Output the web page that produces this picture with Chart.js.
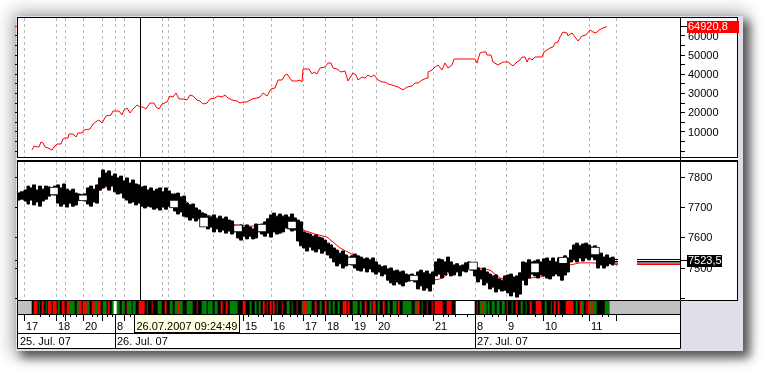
<!DOCTYPE html>
<html>
<head>
<meta charset="utf-8">
<script src="https://cdn.jsdelivr.net/npm/chart.js@4.4.1/dist/chart.umd.min.js"></script>
<style>
  html, body { margin: 0; padding: 0; background: #fff; }
  body { width: 766px; height: 375px; position: relative; overflow: hidden; }
  .abs { position: absolute; box-sizing: border-box; }
  #win { left: 16px; top: 16px; width: 727px; height: 335px; background: #dfdfe7;
         box-shadow: 0 0 16px 4px rgba(0,0,0,0.32), 6px 6px 9px 1px rgba(0,0,0,0.55); }
  #paper { left: 17px; top: 17px; width: 721px; height: 284px; background: #fff; }
  #pTop { left: 17px; top: 17px; width: 721px; height: 141px; border: 1px solid #000; }
  #pBot { left: 17px; top: 160px; width: 721px; height: 141px; border: 1px solid #000; border-top-width: 2px; }
  #axLine { left: 680px; top: 17px; width: 1px; height: 284px; background: #000; }
  canvas { position: absolute; }
  #cTop { left: 13px; top: 18px; }
  #cBot { left: 13px; top: 162px; }
  #cStrip { left: 17px; top: 300px; }
</style>
</head>
<body>
<div id="win" class="abs"></div>
<div id="paper" class="abs"></div>
<div id="pTop" class="abs"></div>
<div id="pBot" class="abs"></div>
<div id="axLine" class="abs"></div>
<canvas id="cTop" width="727" height="139"></canvas>
<canvas id="cBot" width="727" height="138"></canvas>
<canvas id="cStrip" width="664" height="49"></canvas>
<script>
// x axis = bar number (0..662), one bar per screen column of the plot

// equity curve (top panel)
const eqBar = [
  14, 16, 19, 21, 23, 25, 27, 30, 34, 36,
  39, 43, 45, 47, 50, 51, 55, 58, 60, 64,
  66, 72, 75, 79, 81, 84, 88, 93, 95, 101,
  104, 106, 109, 112, 115, 119, 122, 125, 128, 132,
  136, 138, 141, 144, 149, 152, 155, 158, 161, 165,
  169, 172, 175, 179, 182, 185, 189, 192, 197, 200,
  204, 207, 210, 214, 219, 222, 225, 229, 234, 239,
  242, 245, 249, 253, 257, 260, 264, 267, 269, 274,
  279, 282, 284, 285, 291, 294, 296, 299, 302, 307,
  310, 313, 315, 319, 323, 327, 330, 335, 338, 340,
  344, 347, 350, 353, 356, 360, 364, 367, 370, 374,
  377, 380, 385, 389, 394, 397, 400, 404, 409, 410,
  414, 417, 420, 424, 427, 430, 434, 436, 457, 459,
  462, 465, 468, 469, 473, 475, 480, 485, 490, 495,
  499, 502, 504, 507, 509, 511, 514, 517, 524, 526,
  532, 535, 537, 540, 542, 545, 549, 550, 554, 557,
  560, 564, 568, 572, 575, 578, 581, 585, 588, 589
];
const eqVal = [
  625, 2708, 2187, 2187, 4792, 4271, 2187, 1667, 625, 2187,
  3750, 3750, 6354, 6875, 6875, 8958, 8958, 7396, 9479, 9479,
  11042, 11562, 14167, 15729, 16250, 14687, 18333, 18854, 20937, 20937,
  18854, 21458, 22500, 19896, 21979, 24062, 23021, 23021, 21979, 25104,
  25104, 23021, 21979, 24583, 25625, 28750, 28229, 30312, 27187, 27187,
  26667, 29271, 28750, 26667, 26146, 24583, 25104, 27187, 27708, 28750,
  28229, 29271, 27708, 26667, 26146, 25104, 25625, 25625, 27187, 27708,
  28229, 30312, 28750, 32396, 32917, 37083, 37083, 39687, 40208, 36562,
  36562, 37083, 36042, 42812, 42812, 40208, 41250, 40208, 43333, 43854,
  45937, 45937, 43333, 42812, 41250, 41771, 36562, 40729, 39687, 37083,
  38646, 38125, 39687, 38646, 39687, 37083, 36042, 36042, 35000, 34479,
  33958, 33437, 31875, 33437, 33958, 35521, 35521, 37083, 38125, 41250,
  42292, 43854, 44896, 42292, 45937, 43333, 44896, 48021, 48021, 45937,
  51146, 51667, 51667, 50104, 50104, 46458, 44896, 46458, 46458, 44375,
  46458, 47500, 49062, 49062, 46458, 48542, 47500, 49062, 49062, 51667,
  53750, 54271, 56354, 56875, 59479, 62083, 61562, 60000, 61562, 59479,
  57396, 60000, 60521, 63125, 62083, 61562, 63125, 64167, 64687, 64920.8
];

// price band (bottom panel): highs and lows of the bars
const bandBar = [
  0, 4, 8, 10, 13, 16, 19, 22, 25, 28,
  31, 34, 37, 40, 43, 46, 49, 52, 55, 58,
  61, 64, 67, 70, 73, 76, 79, 82, 85, 88,
  91, 94, 97, 100, 103, 106, 109, 112, 115, 118,
  121, 124, 127, 130, 133, 136, 139, 142, 145, 148,
  151, 154, 157, 160, 163, 166, 169, 172, 175, 178,
  181, 184, 187, 190, 193, 196, 199, 202, 205, 208,
  211, 214, 217, 220, 223, 226, 229, 232, 235, 238,
  241, 244, 247, 250, 253, 256, 259, 262, 265, 268,
  271, 274, 277, 280, 283, 286, 289, 292, 295, 298,
  301, 304, 307, 310, 313, 316, 319, 322, 325, 328,
  331, 334, 337, 340, 343, 346, 349, 352, 355, 358,
  361, 364, 367, 370, 373, 376, 379, 382, 385, 388,
  391, 394, 397, 400, 403, 406, 409, 412, 415, 418,
  421, 424, 427, 430, 433, 436, 439, 442, 445, 448,
  451, 454, 457, 460, 463, 466, 469, 472, 475, 478,
  481, 484, 487, 490, 493, 496, 499, 502, 505, 508,
  511, 514, 517, 520, 523, 526, 529, 532, 535, 538,
  541, 544, 547, 550, 553, 556, 559, 562, 565, 568,
  571, 574, 577, 580, 583, 586, 589, 592, 595, 597
];
const bandHi = [
  7747, 7751, 7757, 7770, 7764, 7774, 7757, 7770, 7760, 7770,
  7767, 7764, 7770, 7774, 7764, 7777, 7760, 7754, 7760, 7747,
  7744, 7741, 7744, 7764, 7770, 7760, 7774, 7797, 7823, 7813,
  7820, 7803, 7810, 7797, 7803, 7787, 7797, 7780, 7790, 7777,
  7774, 7767, 7770, 7757, 7764, 7754, 7760, 7764, 7751, 7764,
  7754, 7744, 7744, 7747, 7734, 7737, 7714, 7708, 7711, 7698,
  7691, 7681, 7678, 7671, 7668, 7675, 7662, 7671, 7662, 7668,
  7658, 7655, 7638, 7635, 7642, 7635, 7642, 7635, 7629, 7645,
  7632, 7645, 7652, 7662, 7675, 7681, 7671, 7678, 7671, 7675,
  7668, 7678, 7665, 7658, 7652, 7619, 7615, 7612, 7605, 7609,
  7602, 7599, 7592, 7582, 7576, 7566, 7559, 7549, 7556, 7543,
  7536, 7540, 7546, 7540, 7536, 7530, 7533, 7527, 7533, 7520,
  7510, 7504, 7507, 7497, 7500, 7490, 7493, 7487, 7490, 7480,
  7477, 7480, 7474, 7487, 7493, 7484, 7490, 7480, 7487, 7520,
  7530, 7527, 7520, 7536, 7520, 7510, 7514, 7507, 7510, 7517,
  7520, 7517, 7507, 7500, 7493, 7500, 7487, 7480, 7474, 7477,
  7464, 7460, 7474, 7477, 7480, 7470, 7474, 7484, 7520, 7517,
  7527, 7520, 7523, 7527, 7520, 7530, 7533, 7523, 7533, 7520,
  7533, 7527, 7540, 7533, 7559, 7576, 7582, 7573, 7579, 7582,
  7576, 7569, 7573, 7543, 7549, 7536, 7543, 7533, 7536, 7533
];
const bandLo = [
  7724, 7727, 7721, 7711, 7724, 7708, 7718, 7704, 7721, 7727,
  7737, 7747, 7741, 7714, 7704, 7711, 7701, 7714, 7704, 7708,
  7724, 7727, 7721, 7711, 7704, 7718, 7714, 7757, 7764, 7770,
  7757, 7770, 7751, 7744, 7747, 7731, 7724, 7714, 7718, 7708,
  7714, 7704, 7698, 7704, 7701, 7694, 7698, 7691, 7701, 7694,
  7704, 7711, 7688, 7678, 7685, 7671, 7668, 7658, 7665, 7655,
  7662, 7652, 7645, 7629, 7635, 7619, 7629, 7619, 7625, 7615,
  7622, 7612, 7619, 7599, 7592, 7605, 7596, 7605, 7596, 7599,
  7619, 7612, 7605, 7615, 7602, 7619, 7612, 7615, 7619, 7632,
  7629, 7622, 7625, 7589, 7573, 7566, 7556, 7569, 7559, 7553,
  7563, 7549, 7556, 7543, 7533, 7520, 7507, 7514, 7500, 7507,
  7517, 7510, 7500, 7493, 7490, 7500, 7487, 7497, 7487, 7480,
  7487, 7474, 7480, 7460, 7451, 7444, 7454, 7447, 7441, 7454,
  7457, 7460, 7454, 7431, 7441, 7427, 7434, 7424, 7447, 7474,
  7480, 7467, 7477, 7487, 7474, 7477, 7487, 7474, 7490, 7487,
  7500, 7493, 7474, 7454, 7464, 7444, 7451, 7431, 7437, 7421,
  7431, 7424, 7427, 7418, 7408, 7421, 7404, 7414, 7460, 7444,
  7467, 7480, 7474, 7467, 7477, 7474, 7467, 7464, 7474, 7480,
  7474, 7460, 7477, 7487, 7520, 7527, 7520, 7533, 7523, 7533,
  7527, 7536, 7527, 7500, 7510, 7500, 7507, 7514, 7510, 7517
];

// moving average (red, bottom panel)
const maBar = [
  0, 22, 42, 60, 77, 85, 97, 105, 119, 125,
  142, 162, 167, 175, 182, 189, 202, 217, 232, 244,
  257, 272, 285, 297, 309, 322, 332, 347, 362, 372,
  379, 392, 402, 415, 422, 429, 434, 452, 462, 472,
  482, 492, 512, 522, 537, 552, 562, 572, 597
];
const maVal = [
  7737, 7741, 7741, 7741, 7747, 7764, 7777, 7784, 7764, 7734,
  7734, 7731, 7724, 7698, 7688, 7675, 7662, 7642, 7638, 7638,
  7642, 7638, 7625, 7612, 7602, 7566, 7549, 7520, 7504, 7493,
  7477, 7470, 7464, 7460, 7464, 7477, 7500, 7500, 7500, 7493,
  7467, 7460, 7467, 7470, 7487, 7510, 7517, 7517, 7514
];

// hollow (rising) candles inside the band
const boxBar = [36, 65, 156, 186, 220, 244, 274, 334, 396, 455, 517, 545, 577];
const boxLo = [7741, 7721, 7698, 7635, 7619, 7619, 7629, 7510, 7457, 7493, 7484, 7514, 7543];
const boxHi = [7767, 7741, 7724, 7668, 7642, 7645, 7655, 7536, 7477, 7520, 7517, 7536, 7569];

// price lines at the right end
const levelBlack = [7528, 7521.5, 7516.5];
const levelRed = 7511.5;
const levelBars = [597, 600, 619, 662];
const lastPrice = 7523.5;

// signal strip: run starts (bar) and colour codes
const stripStart = [
  0, 14, 16, 20, 21, 22, 24, 26, 28, 29,
  30, 34, 35, 39, 40, 42, 44, 47, 49, 52,
  57, 59, 61, 64, 65, 69, 72, 74, 77, 80,
  83, 85, 89, 90, 92, 94, 96, 99, 102, 104,
  107, 109, 110, 114, 115, 118, 121, 127, 129, 130,
  134, 135, 140, 144, 147, 149, 152, 155, 157, 160,
  162, 165, 169, 175, 179, 180, 184, 189, 190, 195,
  197, 200, 203, 205, 208, 210, 212, 220, 225, 228,
  232, 234, 237, 239, 241, 243, 245, 247, 249, 250,
  252, 254, 255, 257, 259, 260, 264, 265, 269, 272,
  274, 275, 279, 280, 284, 285, 289, 294, 297, 299,
  302, 304, 307, 309, 311, 313, 315, 317, 320, 322,
  325, 329, 330, 332, 335, 340, 342, 344, 347, 349,
  352, 354, 355, 358, 360, 362, 365, 367, 370, 372,
  375, 379, 380, 382, 385, 394, 397, 399, 402, 404,
  405, 409, 410, 414, 415, 417, 425, 429, 434, 438,
  457, 459, 460, 462, 464, 465, 469, 470, 472, 474,
  477, 479, 482, 484, 487, 489, 490, 494, 495, 498,
  500, 503, 505, 508, 509, 512, 514, 518, 524, 527,
  529, 533, 534, 536, 538, 540, 542, 548, 556, 558,
  560, 562, 564, 566, 568, 569, 570, 572, 573, 575,
  579, 587, 592
];
const stripSignal =
  'xkrkgkrkgk' + 'rkrkgkrkrg' + 'kgrkrgkrgr' + 'kgkrkgwgkg' + 'krgkgkrkgk' +
  'rkgkrkgkgr' + 'gkgkrkgkgk' + 'gkrkrkgkrk' + 'gkgkgkrkrk' + 'rkrkgkrkgk' +
  'gkrkgrgkrk' + 'gkrkgkgkgk' + 'rkrkgkgkrk' + 'gkrkgkrkgk' + 'gkrkgkgrkg' +
  'krkrkrkrkw' + 'krkgrgkgkg' + 'kgkgkrkgkr' + 'kgkgkrkrkg' + 'kgkrkrkrkg' +
  'krgkrkrgrg' + 'kgx';
const stripEnd = 662;
const signalColor = { k: '#000000', r: '#ff0000', g: '#008000', w: '#ffffff', x: '#c0c0c0' };

// time axis
const gridBars = [6, 38, 47, 65, 84, 98, 106, 144, 150, 166, 195, 225, 253, 285, 307, 335, 358, 415, 457, 488, 525, 571, 598];
const minorBars = [22, 31, 45, 52, 59, 74, 79, 89, 94, 112, 230, 240, 245, 264, 272, 279, 292, 299, 322, 329,
  342, 349, 365, 372, 380, 389, 405, 425, 430, 437, 449, 467, 474, 480, 499, 517, 537, 544, 564, 584, 590];
const hourBars = [6, 38, 65, 98, 225, 253, 285, 307, 335, 358, 415, 457, 488, 525, 571];
const hourText = ['17', '18', '20', '8', '15', '16', '17', '18', '19', '20', '21', '8', '9', '10', '11'];
const dayBars = [0, 98, 457];
const dayText = ['25. Jul. 07', '26. Jul. 07', '27. Jul. 07'];
const crossBar = 122;
const crossLabel = '26.07.2007 09:24:49';

// y axes
const topTicks = [0, 5000, 10000, 15000, 20000, 25000, 30000, 35000, 40000, 45000, 50000, 55000, 60000, 65000];
const topLabels = [10000, 20000, 30000, 40000, 50000, 60000];
const botTicks = [7400, 7500, 7600, 7700, 7800];
const botLabels = [7500, 7600, 7700, 7800];

const FONT = '11px "Liberation Sans", Arial, sans-serif';
const col = v => Math.floor(v) + 0.5;
const fmt = v => v.toFixed(1).replace('.', ',');

// dashed grid, crosshair, price axis and last-value badge
const panelPlugin = {
  id: 'panel',
  beforeDatasetsDraw(chart) {
    const { ctx, chartArea: a, scales: { x } } = chart;
    ctx.save();
    ctx.strokeStyle = '#b8b8b8';
    ctx.lineWidth = 1;
    ctx.setLineDash([3, 3]);
    gridBars.forEach(b => {
      const px = col(x.getPixelForValue(b));
      ctx.beginPath(); ctx.moveTo(px, a.top); ctx.lineTo(px, a.bottom); ctx.stroke();
    });
    ctx.restore();
  },
  afterDatasetsDraw(chart) {
    const { ctx, chartArea: a, scales: { x } } = chart;
    const px = col(x.getPixelForValue(crossBar));
    ctx.save();
    ctx.strokeStyle = '#000';
    ctx.lineWidth = 1;
    ctx.beginPath(); ctx.moveTo(px, a.top); ctx.lineTo(px, a.bottom); ctx.stroke();
    ctx.restore();
  },
  afterDraw(chart, args, o) {
    const { ctx, chartArea: a, scales: { y } } = chart;
    ctx.save();
    ctx.lineWidth = 1;
    ctx.strokeStyle = '#000';
    ctx.fillStyle = '#000';
    ctx.font = FONT;
    ctx.textAlign = 'left';
    ctx.textBaseline = 'middle';
    o.ticks.forEach(v => {
      const py = col(y.getPixelForValue(v));
      ctx.beginPath();
      ctx.moveTo(a.right + 1, py); ctx.lineTo(a.right + 5, py);
      ctx.moveTo(a.left - 3, py); ctx.lineTo(a.left - 1, py);
      ctx.stroke();
    });
    o.labels.forEach(v => ctx.fillText(String(v), a.right + 8, y.getPixelForValue(v) + 0.5));

    const ly = y.getPixelForValue(o.last);
    const ry = col(ly);
    ctx.strokeStyle = o.lastColor;
    ctx.beginPath(); ctx.moveTo(a.left - 3, ry); ctx.lineTo(a.left - 1, ry); ctx.stroke();
    ctx.strokeStyle = '#000';
    ctx.beginPath(); ctx.moveTo(a.right + 1, ry); ctx.lineTo(a.right + 7, ry); ctx.stroke();
    ctx.fillStyle = o.lastColor;
    ctx.fillRect(a.right + 7, Math.round(ly) - 6, o.badgeWidth, 12);
    ctx.fillStyle = '#fff';
    ctx.fillText(fmt(o.last), a.right + 8, ly + 0.5);
    ctx.restore();
  }
};

// hour row, date row and the crosshair time box
const timeAxisPlugin = {
  id: 'timeAxis',
  beforeDraw(chart) {
    const { ctx, width, height } = chart;
    ctx.save();
    ctx.fillStyle = '#fff';
    ctx.fillRect(0, 0, width, height);
    ctx.restore();
  },
  afterDraw(chart) {
    const { ctx, width, scales: { x } } = chart;
    const px = b => col(x.getPixelForValue(b));
    ctx.save();
    ctx.strokeStyle = '#000';
    ctx.lineWidth = 1;
    ctx.beginPath();
    ctx.rect(0.5, 0.5, width - 1, 48);
    ctx.moveTo(0, 14.5); ctx.lineTo(width, 14.5);
    ctx.moveTo(0, 33.5); ctx.lineTo(width, 33.5);
    minorBars.forEach(b => { ctx.moveTo(px(b), 15); ctx.lineTo(px(b), 17); });
    gridBars.forEach(b => { ctx.moveTo(px(b), 15); ctx.lineTo(px(b), 21); });
    dayBars.slice(1).forEach(b => { ctx.moveTo(px(b), 15); ctx.lineTo(px(b), 48); });
    ctx.stroke();

    ctx.font = FONT;
    ctx.fillStyle = '#000';
    ctx.textAlign = 'left';
    ctx.textBaseline = 'alphabetic';
    hourBars.forEach((b, i) => ctx.fillText(hourText[i], px(b) + 1.5, 30));
    dayBars.forEach((b, i) => ctx.fillText(dayText[i], px(b) + 1.5, 45));

    const bx = px(crossBar) - 6;
    const bw = Math.round(ctx.measureText(crossLabel).width) + 4;
    ctx.fillStyle = '#ffffe1';
    ctx.fillRect(bx, 14.5, bw, 18);
    ctx.strokeRect(bx, 14.5, bw, 18);
    ctx.fillStyle = '#000';
    ctx.fillText(crossLabel, bx + 2, 30);
    ctx.restore();
  }
};

const baseOptions = (yMin, yMax, panel) => ({
  responsive: false,
  animation: false,
  events: [],
  layout: { padding: { left: 5, right: 60, top: 0, bottom: 0 } },
  scales: {
    x: { type: 'linear', min: 0, max: 662, offset: false, display: false },
    y: { type: 'linear', min: yMin, max: yMax, display: false }
  },
  plugins: { legend: { display: false }, tooltip: { enabled: false }, panel: panel }
});

// top panel: equity
new Chart(document.getElementById('cTop'), {
  type: 'line',
  data: {
    datasets: [{
      data: eqBar.map((b, i) => ({ x: b, y: eqVal[i] })),
      borderColor: '#ff0000',
      borderWidth: 1,
      pointRadius: 0,
      tension: 0
    }]
  },
  options: baseOptions(-3021, 69375, {
    ticks: topTicks, labels: topLabels, last: eqVal[eqVal.length - 1], lastColor: '#ff0000', badgeWidth: 52
  }),
  plugins: [panelPlugin]
});

// bottom panel: price band, average, hollow candles, price lines
const levelLine = (v, color) => ({
  type: 'line',
  data: [
    { x: levelBars[0], y: v }, { x: levelBars[1], y: v }, { x: levelBars[1] + 1, y: null },
    { x: levelBars[2], y: v }, { x: levelBars[3], y: v }
  ],
  borderColor: color, borderWidth: 1, pointRadius: 0, order: 0
});

new Chart(document.getElementById('cBot'), {
  type: 'line',
  data: {
    datasets: [
      { type: 'line', data: bandBar.map((b, i) => ({ x: b, y: bandHi[i] })), borderColor: '#000', backgroundColor: '#000',
        borderWidth: 1, pointRadius: 0, fill: '+1', stepped: 'middle', order: 2 },
      { type: 'line', data: bandBar.map((b, i) => ({ x: b, y: bandLo[i] })), borderColor: '#000',
        borderWidth: 1, pointRadius: 0, fill: false, stepped: 'middle', order: 2 },
      { type: 'line', data: maBar.map((b, i) => ({ x: b, y: maVal[i] })), borderColor: '#ff0000',
        borderWidth: 1, pointRadius: 0, fill: false, order: 3 },
      { type: 'bar', data: boxBar.map((b, i) => ({ x: b, y: [boxLo[i], boxHi[i]] })), backgroundColor: '#fff',
        borderColor: '#000', borderWidth: 1, borderSkipped: false, barThickness: 9, order: 1 },
      ...levelBlack.map(v => levelLine(v, '#000')),
      levelLine(levelRed, '#ff0000')
    ]
  },
  options: baseOptions(7394.5, 7849.5, {
    ticks: botTicks, labels: botLabels, last: lastPrice, lastColor: '#000', badgeWidth: 35
  }),
  plugins: [panelPlugin]
});

// signal strip + time axis
const stripData = [];
const stripColors = [];
stripStart.forEach((s, r) => {
  const end = r + 1 < stripStart.length ? stripStart[r + 1] : stripEnd;
  for (let b = s; b < end; b++) {
    stripData.push({ x: b + 0.5, y: 1 });
    stripColors.push(signalColor[stripSignal[r]]);
  }
});

new Chart(document.getElementById('cStrip'), {
  type: 'bar',
  data: {
    datasets: [{
      data: stripData,
      backgroundColor: stripColors,
      borderWidth: 0,
      barPercentage: 1,
      categoryPercentage: 1
    }]
  },
  options: {
    responsive: false,
    animation: false,
    events: [],
    layout: { padding: { left: 1, right: 1, top: 1, bottom: 35 } },
    scales: {
      x: { type: 'linear', min: 0, max: 662, offset: false, display: false },
      y: { min: 0, max: 1, display: false }
    },
    plugins: { legend: { display: false }, tooltip: { enabled: false } }
  },
  plugins: [timeAxisPlugin]
});
</script>
</body>
</html>
